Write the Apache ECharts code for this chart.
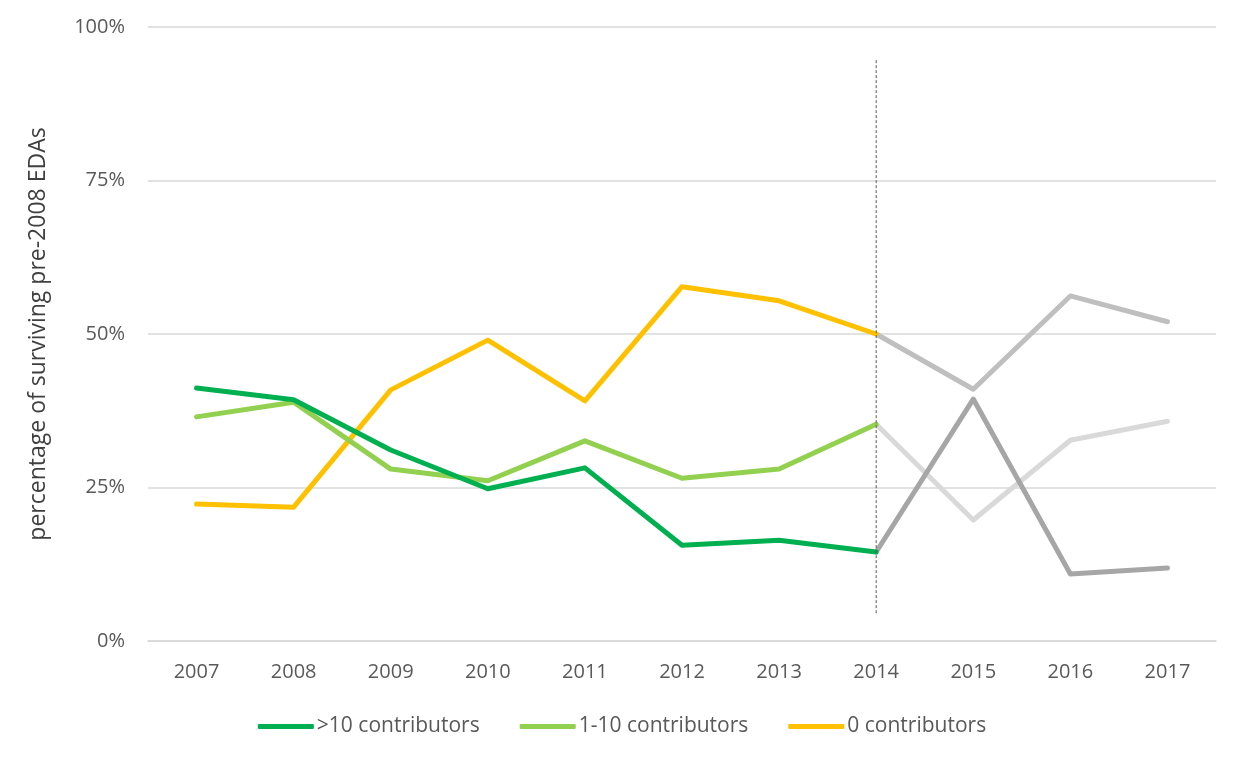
<!DOCTYPE html>
<html>
<head>
<meta charset="utf-8">
<script src="https://cdn.jsdelivr.net/npm/echarts@6/dist/echarts.min.js"></script>
<style>html,body{margin:0;padding:0;background:#fff}#c{width:1244px;height:763px}</style>
</head>
<body>
<div id="c"></div>
<script>
var years = ['2007','2008','2009','2010','2011','2012','2013','2014','2015','2016','2017'];
var yTicks = [0, 25, 50, 75, 100];
// observed 2007-2014
var gt10 = [41.2, 39.3, 31.1, 24.8, 28.2, 15.6, 16.4, 14.5];
var oneTo10 = [36.5, 38.9, 28.0, 26.1, 32.6, 26.5, 28.0, 35.3];
var zero = [22.3, 21.8, 40.9, 49.0, 39.1, 57.7, 55.4, 50.0];
// continuation 2015-2017 (grey)
var gt10Later = [39.4, 10.9, 11.9];
var oneTo10Later = [19.7, 32.7, 35.8];
var zeroLater = [41.0, 56.2, 52.0];
// dashed marker at 2014
var markerYear = '2014';
var markerRange = [94.6, 4.4];

function later(obs, rest) {
  var arr = [];
  for (var i = 0; i < obs.length - 1; i++) arr.push(null);
  arr.push(obs[obs.length - 1]);
  return arr.concat(rest);
}

var font = 'Open Sans';
var chart = echarts.init(document.getElementById('c'));
function lineS(name, data, color, z) {
  return {name: name, type: 'line', data: data, symbol: 'none', z: z,
    lineStyle: {color: color, width: 5, cap: 'round', join: 'round'},
    itemStyle: {color: color}};
}
chart.setOption({
  animation: false,
  textStyle: {fontFamily: font},
  grid: {left: 148, right: 28, top: 27, bottom: 122},
  legend: {
    data: ['>10 contributors', '1-10 contributors', '0 contributors'],
    bottom: 21, left: 'center', icon: 'roundRect', itemWidth: 56, itemHeight: 5, itemGap: 40,
    textStyle: {fontSize: 21, color: '#595959', fontFamily: font, padding: [0,0,0,-2]}
  },
  xAxis: {
    type: 'category', data: years, boundaryGap: true,
    axisTick: {show: false},
    axisLine: {lineStyle: {color: '#d9d9d9', width: 1.5}},
    axisLabel: {fontSize: 20, color: '#595959', margin: 21}
  },
  yAxis: {
    type: 'value', min: yTicks[0], max: yTicks[yTicks.length-1], interval: 25,
    name: 'percentage of surviving pre-2008 EDAs', nameLocation: 'middle', nameGap: 98,
    nameTextStyle: {fontSize: 23, color: '#404040'},
    axisLine: {show: false}, axisTick: {show: false},
    axisLabel: {fontSize: 20, color: '#595959', margin: 23, formatter: '{value}%'},
    splitLine: {lineStyle: {color: '#d9d9d9', width: 1.5}}
  },
  series: [
    lineS('>10 contributors', gt10, '#00b050', 5),
    lineS('1-10 contributors', oneTo10, '#92d050', 4),
    lineS('0 contributors', zero, '#ffc000', 3),
    lineS('g1', later(gt10, gt10Later), '#a6a6a6', 2),
    lineS('g2', later(oneTo10, oneTo10Later), '#d9d9d9', 1),
    lineS('g3', later(zero, zeroLater), '#bfbfbf', 2),
    {name: 'marker', type: 'line', symbol: 'none', z: 10,
     data: [[markerYear, markerRange[0]], [markerYear, markerRange[1]]],
     lineStyle: {color: '#595959', width: 1, type: [3, 2]}}
  ]
});
</script>
</body>
</html>
